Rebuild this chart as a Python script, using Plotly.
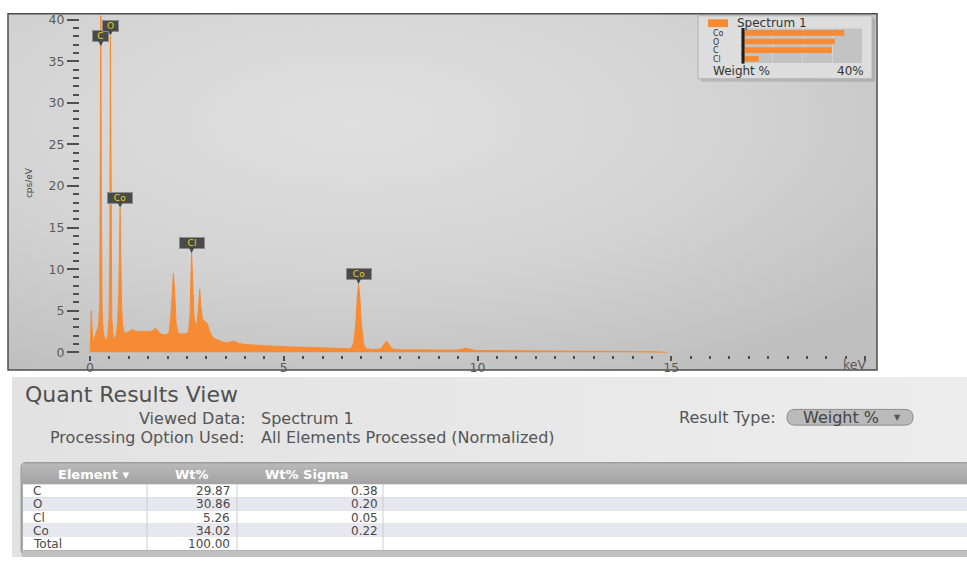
import base64
import plotly.graph_objects as go

W, H = 967, 562
FONT = "DejaVu Sans"
ORANGE = "#F68B33"

# ---- EDS spectrum (keV, cps/eV) ----
energy_kev = [
    0.00, 0.01, 0.03, 0.05, 0.07, 0.10, 0.14, 0.18, 0.22, 0.25,
    0.265, 0.277, 0.29, 0.31, 0.34, 0.38, 0.42, 0.46, 0.49, 0.51,
    0.525, 0.54, 0.56, 0.60, 0.64, 0.68, 0.71, 0.74, 0.76, 0.776,
    0.79, 0.81, 0.84, 0.88, 0.94, 1.00, 1.06, 1.10, 1.16, 1.25,
    1.35, 1.45, 1.55, 1.62, 1.68, 1.73, 1.80, 1.88, 1.96, 2.04,
    2.08, 2.12, 2.15, 2.18, 2.22, 2.27, 2.35, 2.45, 2.54, 2.58,
    2.61, 2.62, 2.65, 2.68, 2.72, 2.76, 2.80, 2.83, 2.86, 2.90,
    2.96, 3.02, 3.08, 3.15, 3.25, 3.35, 3.45, 3.55, 3.62, 3.69,
    3.76, 3.85, 4.00, 4.25, 4.50, 5.00, 5.50, 6.00, 6.50, 6.72,
    6.80, 6.86, 6.90, 6.93, 6.96, 7.00, 7.06, 7.12, 7.30, 7.50,
    7.58, 7.65, 7.72, 7.80, 8.00, 8.50, 9.00, 9.45, 9.60, 9.70,
    9.80, 9.95, 10.5, 11.2, 11.5, 11.8, 12.5, 13.5, 14.5, 14.9,
]
counts_cps = [
    0.0, 1.0, 5.0, 2.0, 1.3, 1.5, 2.0, 2.6, 3.2, 6.0,
    20.0, 42.0, 20.0, 5.0, 2.4, 1.6, 1.5, 2.0, 4.0, 12.0,
    38.0, 14.0, 4.0, 1.8, 1.6, 2.2, 3.5, 7.0, 13.0, 17.3,
    12.0, 6.0, 3.2, 2.4, 2.3, 2.5, 2.65, 2.7, 2.55, 2.5,
    2.5, 2.5, 2.5, 2.6, 2.9, 2.7, 2.3, 2.1, 2.1, 2.4,
    4.0, 7.0, 9.5, 7.5, 3.5, 2.3, 2.2, 2.2, 2.4, 4.5,
    9.0, 12.0, 8.5, 4.5, 3.3, 3.4, 5.5, 7.6, 5.5, 4.0,
    3.7, 3.5, 2.6, 1.9, 1.55, 1.35, 1.2, 1.15, 1.25, 1.35,
    1.25, 1.05, 0.95, 0.85, 0.78, 0.68, 0.58, 0.50, 0.44, 0.42,
    1.0, 3.5, 6.8, 8.2, 6.8, 3.5, 1.0, 0.4, 0.34, 0.4,
    0.9, 1.35, 0.9, 0.4, 0.3, 0.28, 0.26, 0.25, 0.38, 0.48,
    0.38, 0.22, 0.20, 0.18, 0.24, 0.17, 0.14, 0.10, 0.06, 0.0,
]

# peak identification tags: element, line energy (keV), tag tip height (cps/eV)
peak_elements = ["C", "O", "Co", "Cl", "Co"]
peak_energy = [0.277, 0.525, 0.776, 2.62, 6.93]
peak_tag_cps = [36.8, 38.1, 17.4, 11.95, 8.2]

# axis ticks
y_ticks = [0, 5, 10, 15, 20, 25, 30, 35, 40]
x_ticks = [0, 5, 10, 15, 20]
x_tick_text = ["0", "5", "10", "15", ""]

# ---- quantification results ----
elements = ["C", "O", "Cl", "Co"]
wt_pct = [29.87, 30.86, 5.26, 34.02]
wt_sigma = [0.38, 0.20, 0.05, 0.22]
total_wt = 100.00
legend_max_pct = 40
table_headers = ["Element ▾", "Wt%", "Wt% Sigma"]


def fx(px):
    return px / W


def fy(py):
    return 1 - py / H


def rounded_rect(x0, y0, x1, y1, r):
    """Rounded rectangle path in paper units from pixel corners."""
    def p(x, y):
        return f"{fx(x):.5f},{fy(y):.5f}"
    return (f"M {p(x0 + r, y0)} L {p(x1 - r, y0)} Q {p(x1, y0)} {p(x1, y0 + r)} "
            f"L {p(x1, y1 - r)} Q {p(x1, y1)} {p(x1 - r, y1)} "
            f"L {p(x0 + r, y1)} Q {p(x0, y1)} {p(x0, y1 - r)} "
            f"L {p(x0, y0 + r)} Q {p(x0, y0)} {p(x0 + r, y0)} Z")


def rect(x0, y0, x1, y1, fill, line_color=None, line_width=0, layer="below"):
    return dict(type="rect", xref="paper", yref="paper", x0=fx(x0), x1=fx(x1), y0=fy(y1), y1=fy(y0),
                fillcolor=fill, line=dict(color=line_color or fill, width=line_width), layer=layer)


def vline(x, y0, y1, color, width=1):
    return dict(type="line", xref="paper", yref="paper", x0=fx(x), x1=fx(x), y0=fy(y1), y1=fy(y0),
                line=dict(color=color, width=width), layer="below")


def text(x, y, s, font, xanchor="left", **kw):
    return dict(x=fx(x), y=fy(y), xref="paper", yref="paper", text=s, xanchor=xanchor,
                yanchor="middle", showarrow=False, font=font, **kw)


def svg_uri(svg):
    return "data:image/svg+xml;base64," + base64.b64encode(svg.encode()).decode()


spectrum_bg = svg_uri(
    '<svg xmlns="http://www.w3.org/2000/svg" width="869" height="362" preserveAspectRatio="none">'
    '<defs><radialGradient id="g" cx="0.40" cy="0.30" r="0.80">'
    '<stop offset="0" stop-color="#e0e0e0"/><stop offset="0.55" stop-color="#d3d3d3"/>'
    '<stop offset="1" stop-color="#bfbfbf"/></radialGradient></defs>'
    '<rect width="100%" height="100%" fill="url(#g)"/></svg>'
)
panel_bg = svg_uri(
    '<svg xmlns="http://www.w3.org/2000/svg" width="955" height="183" preserveAspectRatio="none">'
    '<defs><linearGradient id="h" x1="0" y1="0" x2="1" y2="0">'
    '<stop offset="0" stop-color="#e2e2e2"/><stop offset="1" stop-color="#ededed"/>'
    '</linearGradient></defs><rect width="100%" height="100%" fill="url(#h)"/></svg>'
)
header_bg = svg_uri(
    '<svg xmlns="http://www.w3.org/2000/svg" width="945" height="21" preserveAspectRatio="none">'
    '<defs><linearGradient id="k" x1="0" y1="0" x2="0" y2="1">'
    '<stop offset="0" stop-color="#b9b9b9"/><stop offset="1" stop-color="#a3a3a3"/>'
    '</linearGradient></defs><rect width="100%" height="100%" fill="url(#k)"/></svg>'
)

fig = go.Figure()

# spectrum
fig.add_trace(go.Scatter(
    x=energy_kev, y=counts_cps, mode="lines", fill="tozeroy",
    line=dict(color=ORANGE, width=1), fillcolor=ORANGE,
    xaxis="x", yaxis="y", hoverinfo="skip",
))

# weight % mini-legend bars (largest first)
order = sorted(range(len(elements)), key=lambda i: -wt_pct[i])
legend_el = [elements[i] for i in order]
legend_wt = [wt_pct[i] for i in order]
fig.add_trace(go.Bar(
    x=legend_wt, y=legend_el, orientation="h", marker=dict(color=ORANGE, line=dict(width=0)),
    width=0.66, xaxis="x2", yaxis="y2", hoverinfo="skip",
))
fig.add_trace(go.Scatter(
    x=[0] * len(legend_el), y=legend_el, mode="markers", cliponaxis=False,
    marker=dict(symbol="line-ns", size=7, line=dict(width=3, color="#1e1e1e")),
    xaxis="x2", yaxis="y2", hoverinfo="skip",
))

tick_font = dict(family=FONT, size=12.5, color="#5a5a5a")
legend_font = dict(family=FONT, size=12, color="#333333")

annotations = []
# peak tags
for el, e, h in zip(peak_elements, peak_energy, peak_tag_cps):
    annotations.append(dict(
        x=e, y=h, xref="x", yref="y", text=el, showarrow=True,
        ax=0, ay=-10, arrowhead=2, arrowsize=0.9, arrowwidth=1.5, arrowcolor="#4a4a4a", standoff=0,
        font=dict(family=FONT, size=9, color="#e6d21c"),
        bgcolor="#4a4a4a", bordercolor="#8c8c8c", borderwidth=1, borderpad=0,
        width=6 + 9 * len(el),
    ))

annotations += [
    text(29, 182, "cps/eV", dict(family=FONT, size=9, color="#444444"), xanchor="center", textangle=-90),
    dict(x=20, y=fy(366), xref="x", yref="paper", text="keV", xanchor="right", yanchor="middle",
         xshift=3, showarrow=False, font=tick_font),
    # mini legend
    text(735, 19.5, "Spectrum 1", legend_font),
    text(711, 68.5, "Weight %", legend_font),
    dict(x=legend_max_pct, y=fy(68.5), xref="x2", yref="paper", text=f"{legend_max_pct}%",
         xanchor="right", yanchor="middle", xshift=4, showarrow=False, font=legend_font),
]
for el in legend_el:
    annotations.append(dict(x=fx(711), y=el, xref="paper", yref="y2", text=el, xanchor="left",
                            yanchor="middle", showarrow=False, height=8,
                            font=dict(family=FONT, size=8, color="#333333")))

# quant results header texts
ui_font = dict(family=FONT, size=16, color="#555555")
annotations += [
    text(23, 397, "Quant Results View", dict(family=FONT, size=22, color="#505050")),
    text(248, 421, "Viewed Data:", ui_font, xanchor="right"),
    text(259, 421, "Spectrum 1", ui_font),
    text(246, 441, "Processing Option Used:", ui_font, xanchor="right"),
    text(259, 441, "All Elements Processed (Normalized)", ui_font),
    text(778, 420, "Result Type:", ui_font, xanchor="right"),
    text(801, 420, "Weight %", dict(family=FONT, size=16, color="#444444")),
    text(897, 420, "▼", dict(family=FONT, size=8, color="#555555"), xanchor="center"),
]

# results table: rows of strings built from the quant values
col_edges = [22, 147, 237, 383, 967]
head_top, head_bot, row_h = 467, 488, 13.4
rows = [[el, f"{w:.2f}", f"{s:.2f}"] for el, w, s in zip(elements, wt_pct, wt_sigma)]
rows.append(["Total", f"{total_wt:.2f}", ""])
row_fill = ["#ffffff", "#e7e7ef"]
cell_font = dict(family=FONT, size=12, color="#474747")
head_font = dict(family=FONT, size=13, color="#ffffff")

shapes = [
    # mini legend box
    rect(701, 15, 875, 79, "rgba(0,0,0,0.13)"),
    rect(698, 12, 872, 76, "#dddddd", "#b3b3b3", 1),
    rect(742, 25, 862, 60, "#c3c3c3"),
    rect(708, 15.5, 728, 23.5, ORANGE),
    # spectrum frame
    rect(8, 10, 877, 372, "rgba(0,0,0,0)", "#4d4d4d", 1.5, layer="above"),
    # result type drop-down
    dict(type="path", xref="paper", yref="paper", path=rounded_rect(787, 412, 913, 428, 8),
         fillcolor="#bababa", line=dict(color="#8c8c8c", width=1), layer="below"),
    # table frame and footer
    dict(type="path", xref="paper", yref="paper", path=rounded_rect(21, 466, 970, 560, 5),
         fillcolor="#a8a8a8", line=dict(color="#9c9c9c", width=1), layer="below"),
    rect(22, 555.5, 967, 562, "#c0c0c0"),
]

for i, row in enumerate(rows):
    top = head_bot + i * row_h
    shapes.append(rect(23, top, 967, top + row_h, row_fill[i % 2]))
    yc = top + row_h / 2
    cell_kw = dict(height=13)
    annotations.append(text(col_edges[0] + 9, yc, row[0], cell_font, **cell_kw))
    annotations.append(text(col_edges[2] - 5, yc, row[1], cell_font, xanchor="right", **cell_kw))
    if row[2]:
        annotations.append(text(col_edges[3] - 3, yc, row[2], cell_font, xanchor="right", **cell_kw))

rows_bot = head_bot + len(rows) * row_h
for xc in col_edges[1:4]:
    shapes.append(vline(xc, head_bot, rows_bot, "#cdcdcd"))
    shapes.append(vline(xc, head_top + 3, head_bot - 3, "#c9c9c9"))

head_centers = [94, (col_edges[1] + col_edges[2]) / 2, (col_edges[2] + col_edges[3]) / 2 - 3]
for hc, ht in zip(head_centers, table_headers):
    annotations.append(text(hc, (head_top + head_bot) / 2 + 1, f"<b>{ht}</b>", head_font, xanchor="center"))

images = [
    dict(source=spectrum_bg, xref="paper", yref="paper", x=fx(8), y=fy(10), sizex=869 / W,
         sizey=362 / H, sizing="stretch", xanchor="left", yanchor="top", layer="below"),
    dict(source=panel_bg, xref="paper", yref="paper", x=fx(12), y=fy(379), sizex=955 / W,
         sizey=183 / H, sizing="stretch", xanchor="left", yanchor="top", layer="below"),
    dict(source=header_bg, xref="paper", yref="paper", x=fx(22), y=fy(467), sizex=945 / W,
         sizey=21 / H, sizing="stretch", xanchor="left", yanchor="top", layer="above"),
]

fig.update_layout(
    width=W, height=H, margin=dict(l=0, r=0, t=0, b=0),
    paper_bgcolor="#ffffff", plot_bgcolor="rgba(0,0,0,0)",
    showlegend=False, hovermode=False, font=dict(family=FONT),
    xaxis=dict(
        domain=[fx(80), fx(865)], range=[-0.26, 20], anchor="y",
        tickmode="array", tickvals=x_ticks, ticktext=x_tick_text,
        ticks="outside", ticklen=5, tickwidth=2, tickcolor="#4f4f4f", tickfont=tick_font,
        ticklabelstandoff=-4,
        minor=dict(dtick=0.5, tick0=0, ticks="outside", ticklen=3, tickwidth=2, tickcolor="#4f4f4f"),
        showgrid=False, zeroline=False, showline=False, fixedrange=True,
    ),
    yaxis=dict(
        domain=[fy(356.5), fy(12)], range=[-0.3, 40.47], anchor="x",
        tickmode="array", tickvals=y_ticks,
        ticks="outside", ticklen=12, tickwidth=2, tickcolor="#4f4f4f", tickfont=tick_font,
        minor=dict(dtick=1, tick0=0, ticks="outside", ticklen=6, tickwidth=2, tickcolor="#4f4f4f"),
        showgrid=False, zeroline=False, showline=False, fixedrange=True,
    ),
    xaxis2=dict(
        domain=[fx(743), fx(862)], range=[0, legend_max_pct], anchor="y2",
        showticklabels=False, ticks="", showgrid=True, dtick=10, gridcolor="#d3d3d3", gridwidth=1,
        zeroline=False, showline=False, fixedrange=True,
    ),
    yaxis2=dict(
        domain=[fy(60), fy(25)], anchor="x2", type="category",
        categoryorder="array", categoryarray=legend_el, range=[len(legend_el) - 0.5, -0.5],
        showticklabels=False, ticks="", showgrid=False, zeroline=False, showline=False,
        fixedrange=True,
    ),
    annotations=annotations, shapes=shapes, images=images,
)

fig.write_html("out.html")
